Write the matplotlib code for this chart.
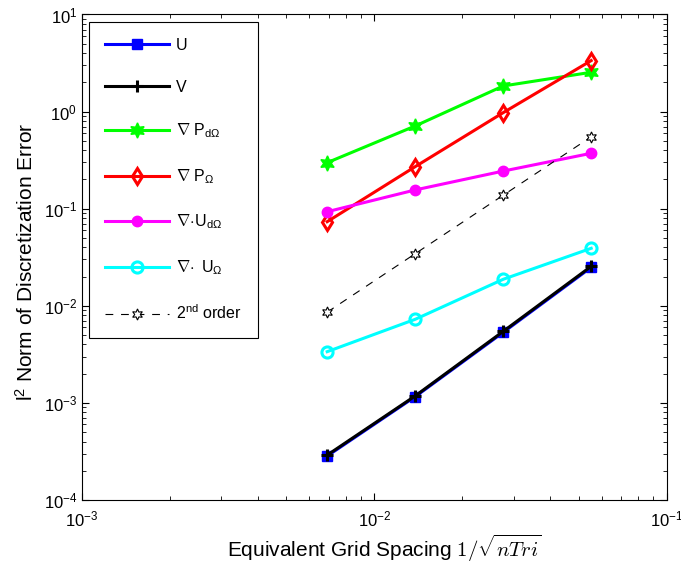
import numpy as np
import matplotlib
matplotlib.use("Agg")
import matplotlib.pyplot as plt

plt.rcParams['font.family'] = ['Liberation Sans', 'DejaVu Sans']
plt.rcParams['mathtext.fontset'] = 'custom'
plt.rcParams['mathtext.rm'] = 'Liberation Sans'
plt.rcParams['mathtext.it'] = 'Liberation Sans:italic'
plt.rcParams['mathtext.bf'] = 'Liberation Sans:bold'

# grid spacing 1/sqrt(nTri)
h = [0.0069, 0.0138, 0.0276, 0.0552]

# l2 error of each quantity
err_u = [2.84e-4, 1.16e-3, 5.33e-3, 0.0249]
err_v = [2.90e-4, 1.18e-3, 5.45e-3, 0.0255]
err_gradp_dom = [0.298, 0.711, 1.835, 2.54]
err_gradp_om = [0.0735, 0.271, 0.975, 3.35]
err_divu_dom = [0.0931, 0.156, 0.244, 0.372]
err_divu_om = [0.00337, 0.00726, 0.01875, 0.0391]
second_order = [0.0086, 0.0344, 0.1376, 0.55]

labels = ['U', 'V', r'$\nabla$ P$_{\mathrm{d\Omega}}$', r'$\nabla$ P$_{\Omega}$',
          r'$\nabla\!\cdot\!$U$_{\mathrm{d\Omega}}$', r'$\nabla\!\cdot$ U$_{\Omega}$',
          r'2$^{\mathrm{nd}}$ order']

hexagram = (6, 1, 0)

fig = plt.figure(figsize=(6.81, 5.68), dpi=100)
ax = fig.add_axes([0.1204, 0.1197, 0.8585, 0.8548])

lw = 2.2
ax.plot(h, err_u, '-s', color='#0000ff', lw=lw, ms=7, mfc='#0000ff', mec='#0000ff', label=labels[0])
ax.plot(h, err_v, '-+', color='k', lw=lw, ms=8, mew=2.2, label=labels[1])
ax.plot(h, err_gradp_dom, '-', marker=hexagram, color='#00ff00', lw=lw, ms=11, mfc='#00ff00', label=labels[2])
ax.plot(h, err_gradp_om, '-d', color='#ff0000', lw=lw, ms=8.5, mfc='none', mew=2.2, label=labels[3])
ax.plot(h, err_divu_dom, '-o', color='#ff00ff', lw=lw, ms=7.5, mfc='#ff00ff', label=labels[4])
ax.plot(h, err_divu_om, '-o', color='#00ffff', lw=lw, ms=8, mfc='none', mew=2.2, label=labels[5])
ax.plot(h, second_order, color='k', lw=0.8, dashes=(7, 7), marker=hexagram, ms=8,
        mfc='white', mec='k', mew=0.8, label=labels[6])

ax.set_xscale('log')
ax.set_yscale('log')
ax.set_xlim(1e-3, 1e-1)
ax.set_ylim(1e-4, 1e1)

ax.tick_params(which='both', direction='in', top=True, right=True, labelsize=12)
ax.tick_params(which='major', length=5)
ax.tick_params(which='minor', length=3)
ax.tick_params(axis='x', pad=7)

ax.set_xlabel(r'Equivalent Grid Spacing $1/\sqrt{nTri}$', fontsize=15, math_fontfamily='cm')
ax.xaxis.set_label_coords(0.517, -0.068)
ax.set_ylabel(r'l$^2$ Norm of Discretization Error', fontsize=15)
ax.yaxis.set_label_coords(-0.078, 0.49)

leg = ax.legend(loc='upper left', bbox_to_anchor=(0.012, 0.9845), borderaxespad=0,
                fontsize=11.5, labelspacing=1.68, handlelength=4.0, handletextpad=0.45,
                borderpad=1.0, fancybox=False, edgecolor='k', framealpha=1)
leg.get_frame().set_linewidth(0.8)

fig.savefig('out.png', dpi=100)
